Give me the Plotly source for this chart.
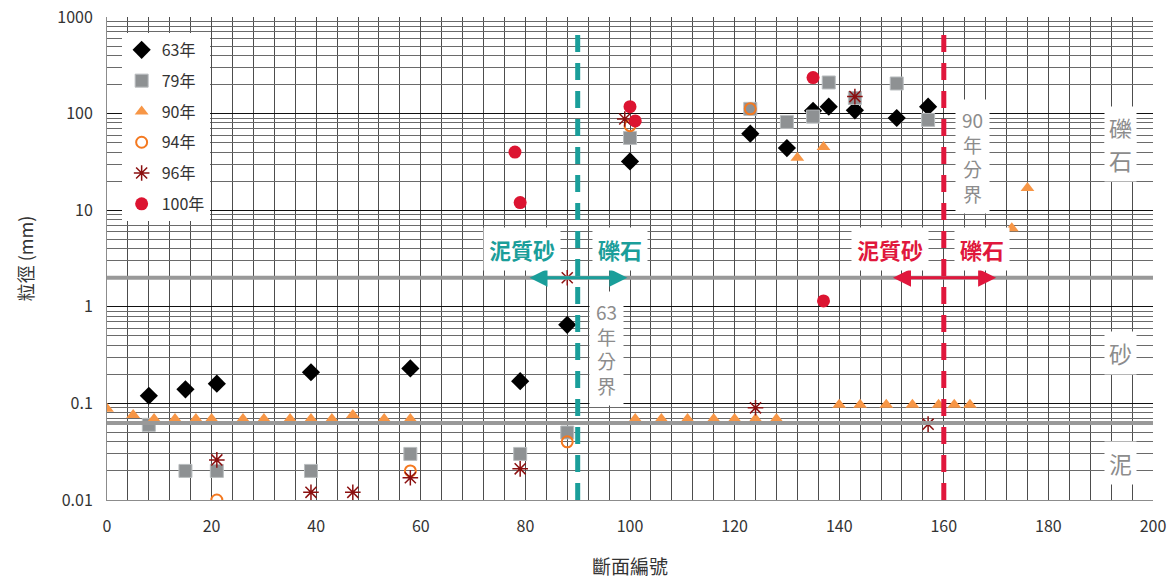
import math
import plotly.graph_objects as go

# ---------------- data ----------------
x63 = [8, 15, 21, 39, 58, 79, 88, 100, 123, 130, 135, 138, 143, 151, 157]
y63 = [0.12, 0.14, 0.16, 0.21, 0.23, 0.17, 0.65, 32, 62, 44, 107, 118, 108, 90, 118]

x79 = [8, 15, 21, 39, 58, 79, 88, 100, 123, 130, 135, 138, 143, 151, 157]
y79 = [0.06, 0.02, 0.02, 0.02, 0.03, 0.03, 0.05, 56, 112, 82, 93, 210, 145, 205, 86]

x90 = [0, 5, 9, 13, 17, 20, 26, 30, 35, 39, 43, 47, 53, 58,
       101, 106, 111, 116, 120, 124, 128, 132, 137,
       140, 144, 149, 154, 159, 162, 165, 173, 176]
y90 = [0.088, 0.076, 0.069, 0.069, 0.069, 0.069, 0.069, 0.069, 0.069, 0.069, 0.069, 0.076, 0.069, 0.069,
       0.069, 0.069, 0.069, 0.069, 0.069, 0.069, 0.069, 35, 45,
       0.097, 0.097, 0.097, 0.097, 0.097, 0.097, 0.097, 6.5, 17]

x94 = [21, 58, 88, 100, 123]
y94 = [0.01, 0.02, 0.04, 75, 112]

x96 = [21, 39, 47, 58, 79, 88, 99, 124, 143, 157]
y96 = [0.026, 0.012, 0.012, 0.017, 0.021, 2.0, 88, 0.09, 150, 0.061]

x100 = [78, 79, 100, 101, 135, 137]
y100 = [40, 12, 118, 84, 236, 1.15]

series_names = ["63年", "79年", "90年", "94年", "96年", "100年"]

x_ticks = [0, 20, 40, 60, 80, 100, 120, 140, 160, 180, 200]
y_ticks = [0.01, 0.1, 1, 10, 100, 1000]
y_tick_text = ["0.01", "0.1", "1", "10", "100", "1000"]

# class boundaries (mm) and division sections
gravel_sand = 2.0
sand_mud = 0.0625
div63 = 90
div90 = 160
arrow63 = (80.5, 99.5)
arrow90 = (150, 170)

TEAL = "#1a9e9a"
RED = "#e0173c"
GRAYTXT = "#8c8c8c"
FONT = "Noto Sans CJK TC"

fig = go.Figure()

fig.add_trace(go.Scatter(x=x63, y=y63, mode="markers", name=series_names[0], legendgroup="a",
                         marker=dict(symbol="diamond", size=14, color="black")))
fig.add_trace(go.Scatter(x=x79, y=y79, mode="markers", name=series_names[1], legendgroup="b",
                         marker=dict(symbol="square", size=13, color="#8e9193",
                                     line=dict(color="#b9bdbf", width=1))))
fig.add_trace(go.Scatter(x=x90, y=y90, mode="markers", name=series_names[2], legendgroup="c",
                         marker=dict(symbol="triangle-up", size=12, color="#f79646")))
fig.add_trace(go.Scatter(x=x94, y=y94, mode="markers", name=series_names[3], legendgroup="d",
                         marker=dict(symbol="circle-open", size=11, color="#f47920",
                                     line=dict(width=2))))
fig.add_trace(go.Scatter(x=x96, y=y96, mode="markers", name=series_names[4], legendgroup="e",
                         marker=dict(symbol="asterisk-open", size=13, color="#8b1010",
                                     line=dict(width=1.5, color="#8b1010"))))
fig.add_trace(go.Scatter(x=x100, y=y100, mode="markers", name=series_names[5], legendgroup="f",
                         marker=dict(symbol="circle", size=13, color="#dc1431")))

shapes = []
for yb in (gravel_sand, sand_mud):
    shapes.append(dict(type="line", xref="paper", x0=0, x1=1, yref="y", y0=yb, y1=yb,
                       line=dict(color="#999999", width=4), layer="above"))
shapes.append(dict(type="line", xref="x", x0=div63, x1=div63, yref="paper", y0=0, y1=0.97,
                   line=dict(color=TEAL, width=5, dash="17px,11px"), layer="above"))
shapes.append(dict(type="line", xref="x", x0=div90, x1=div90, yref="paper", y0=0, y1=0.975,
                   line=dict(color=RED, width=5, dash="17px,11px"), layer="above"))

ann = []
lg = math.log10
# double arrows
for (a0, a1), col in ((arrow63, TEAL), (arrow90, RED)):
    ann.append(dict(x=a1, y=lg(gravel_sand), ax=a0, ay=lg(gravel_sand), xref="x", yref="y",
                    axref="x", ayref="y", text="", showarrow=True, arrowhead=2, arrowside="end+start",
                    arrowsize=1.2, arrowwidth=3, arrowcolor=col))

def label(x, y, text, color, size, pad=5):
    ann.append(dict(x=x, y=y, xref="x", yref="y", text=text, showarrow=False,
                    font=dict(family=FONT, size=size, color=color),
                    bgcolor="white", borderpad=pad))

label(79.3, 0.6, "<b>泥質砂</b>", TEAL, 22)
label(98.0, 0.6, "<b>礫石</b>", TEAL, 22)
label(149.7, 0.6, "<b>泥質砂</b>", RED, 22)
label(167.3, 0.6, "<b>礫石</b>", RED, 22)
label(95.6, -0.43, "63<br>年<br>分<br>界", GRAYTXT, 19, pad=6)
label(165.4, 1.56, "90<br>年<br>分<br>界", GRAYTXT, 19, pad=6)
label(193.8, 1.85, "礫", GRAYTXT, 23, pad=4)
label(193.8, 1.52, "石", GRAYTXT, 23, pad=4)
label(193.8, -0.476, "砂", GRAYTXT, 23, pad=4)
label(193.8, -1.615, "泥", GRAYTXT, 23, pad=4)

GRID = "#4d4d4d"
fig.update_layout(
    width=1171, height=579,
    margin=dict(l=107, r=18, t=17, b=79),
    paper_bgcolor="white", plot_bgcolor="white",
    font=dict(family=FONT, size=16, color="#333333"),
    shapes=shapes, annotations=ann,
    legend=dict(x=0.014, y=0.967, xanchor="left", yanchor="top", bgcolor="white",
                font=dict(family=FONT, size=16, color="#333333"),
                traceorder="grouped", tracegroupgap=7, itemwidth=30),
    xaxis=dict(range=[0, 200], tickvals=x_ticks, showgrid=True, gridcolor=GRID, gridwidth=1,
               minor=dict(dtick=4, tick0=0, showgrid=True, gridcolor=GRID, gridwidth=1),
               showline=True, linecolor="#8c8c8c", linewidth=1, zeroline=False, ticks="",
               automargin=False, ticklabeloverflow="allow", ticklabelstandoff=12,
               title=dict(text="斷面編號", font=dict(family=FONT, size=19, color="#333333"), standoff=26),
               tickfont=dict(size=16)),
    yaxis=dict(type="log", range=[-2, 3], tickvals=y_ticks, ticktext=y_tick_text,
               showgrid=True, gridcolor="#111111", gridwidth=1,
               minor=dict(dtick="D1", showgrid=True, gridcolor="#6a6a6a", gridwidth=1),
               showline=True, linecolor="#8c8c8c", linewidth=1, zeroline=False, ticks="",
               automargin=False, ticklabeloverflow="allow", ticklabelstandoff=10,
               title=dict(text="粒徑 (mm)", font=dict(family=FONT, size=18, color="#333333"), standoff=18),
               tickfont=dict(size=16)),
)

# remove the default 8px page margin so the figure fills the window exactly
fig.write_html("out.html", config={"displayModeBar": False},
               post_script="document.body.style.margin='0';document.body.style.overflow='hidden';")
